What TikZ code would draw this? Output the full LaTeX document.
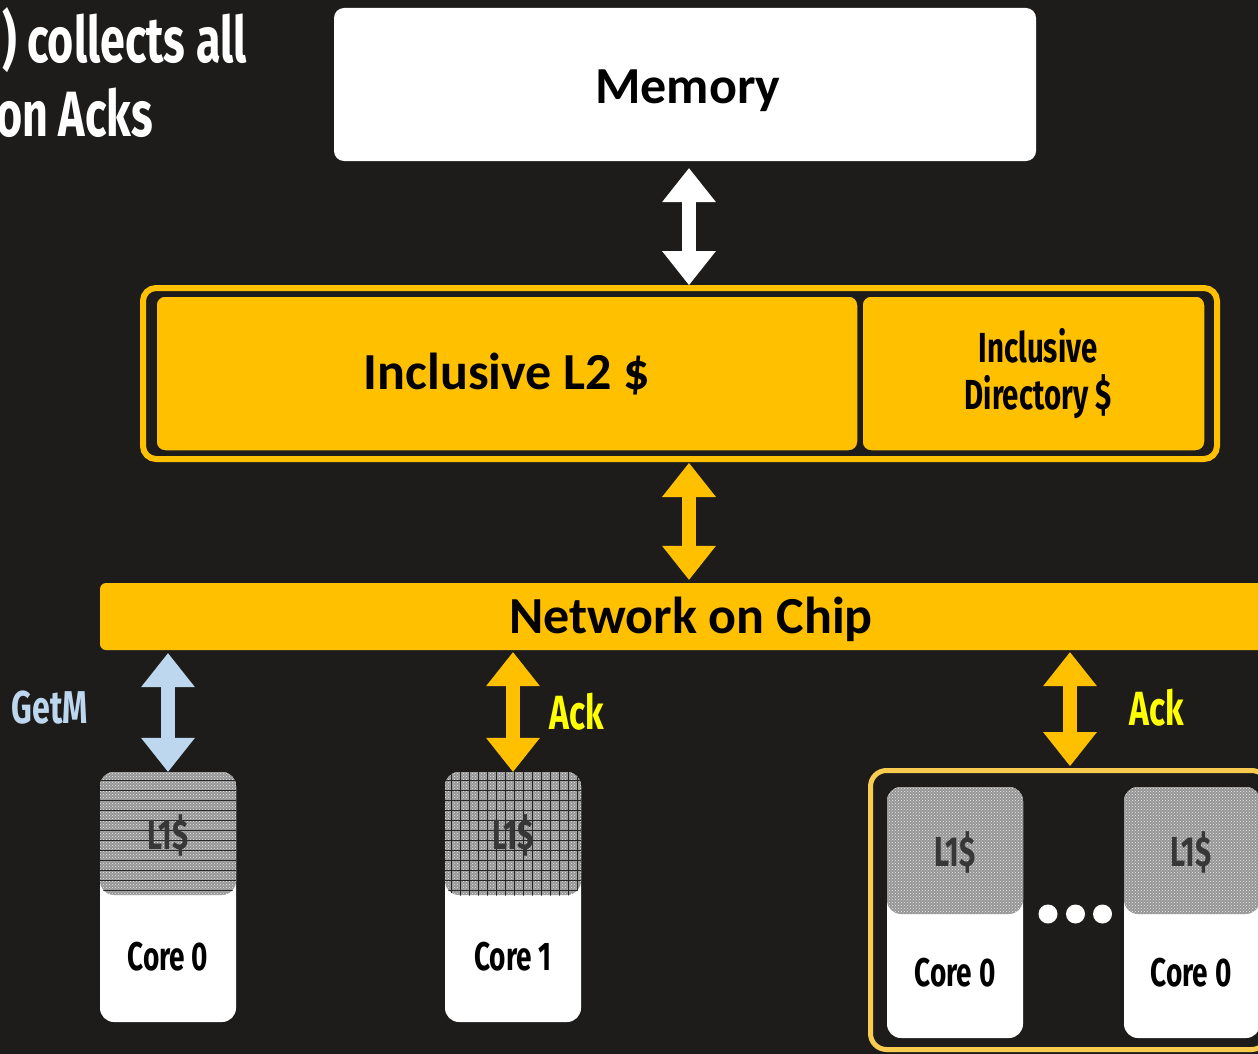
\documentclass[tikz,border=0pt]{standalone}
\usepackage{fontspec}
\setmainfont{Carlito}
\newfontfamily\cond[FakeStretch=0.7]{Fira Sans}
\usetikzlibrary{arrows.meta,patterns}
\definecolor{bg}{RGB}{29,28,26}
\definecolor{gold}{RGB}{255,192,0}
\definecolor{paleblue}{RGB}{189,215,238}
\definecolor{ackyellow}{RGB}{255,255,0}
\definecolor{framey}{RGB}{249,204,80}
\definecolor{lgray}{RGB}{150,150,150}
\definecolor{ltext}{RGB}{55,55,55}
\tikzset{
  blockarrow/.style={line width=14pt, draw=#1,
    {Triangle[length=34pt,width=54pt,line width=0pt]}-{Triangle[length=34pt,width=54pt,line width=0pt]}},
  bigtext/.style={font=\fontsize{52}{56}\selectfont\bfseries, text=black},
  condtext/.style={font=\cond\bfseries\fontsize{#1}{#1}\selectfont},
  corebox/.style={fill=white, rounded corners=14pt, minimum width=136pt, inner sep=0pt},
  l1box/.style={fill=lgray, rounded corners=14pt, minimum width=136pt, inner sep=0pt,
    postaction={pattern=crosshatch dots, pattern color=white!80!lgray}},
  l1text/.style={condtext=42, text=ltext},
  coretext/.style={condtext=40, text=black},
}
\begin{document}
\begin{tikzpicture}[x=1pt,y=-1pt]
\useasboundingbox (0,0) rectangle (1258,1054);
\fill[bg] (0,0) rectangle (1258,1054);

% title (partly cut off)
\node[condtext=64, text=white, anchor=base east, inner sep=0pt] (title1) at (247,63) {) collects all};
\node[condtext=64, text=white, anchor=base east, inner sep=0pt] (title2) at (153,137) {on Acks};

% memory
\node[fill=white, rounded corners=10pt, minimum width=702pt, minimum height=153pt, inner sep=0pt] (mem) at (685,84.5) {};
\node[bigtext] (memtxt) at (688,91) {Memory};

% L2 frame
\node[draw=gold, line width=6pt, fill=bg, rounded corners=13pt, minimum width=1074pt, minimum height=171pt, inner sep=0pt] (l2out) at (680,373.5) {};
\node[fill=gold, draw=bg, line width=1.5pt, rounded corners=9pt, minimum width=702pt, minimum height=155pt, inner sep=0pt] (l2) at (507,373.5) {};
\node[bigtext] (l2txt) at (507,374) {Inclusive L2 \$};
\node[fill=gold, draw=bg, line width=1.5pt, rounded corners=9pt, minimum width=343pt, minimum height=155pt, inner sep=0pt] (dir) at (1033.5,373.5) {};
\node[condtext=42, text=black, align=center, inner sep=0pt] (dirtxt) at (1038,374) {Inclusive\\[5pt]Directory \$};

% network on chip
\node[fill=gold, rounded corners=6pt, minimum width=1170pt, minimum height=67pt, inner sep=0pt] (noc) at (685,616.5) {};
\node[bigtext] (noctxt) at (691,619) {Network on Chip};

% core 0
\node[corebox, minimum height=250pt] (core0) at (168,897) {};
\node[l1box, minimum height=123pt] (l1a) at (168,833.5) {};
\begin{scope}
  \clip[rounded corners=14pt] (100,772) rectangle (236,895.5);
  \foreach \yy in {780,790,...,895} \draw[black!85, line width=0.9pt] (100,\yy) -- (237,\yy);
\end{scope}
\node[l1text] (l1atxt) at (168,835) {L1\$};
\node[coretext] (c0txt) at (168,957) {Core 0};

% core 1
\node[corebox, minimum height=250pt] (core1) at (513,897) {};
\node[l1box, minimum height=123pt] (l1b) at (513,833.5) {};
\begin{scope}
  \clip[rounded corners=14pt] (445,772) rectangle (581,895.5);
  \foreach \yy in {780,790,...,895} \draw[black!85, line width=0.9pt] (445,\yy) -- (581,\yy);
  \foreach \xx in {451,460,...,581} \draw[black!85, line width=0.9pt] (\xx,772) -- (\xx,896);
\end{scope}
\node[l1text] (l1btxt) at (513,835) {L1\$};
\node[coretext] (c1txt) at (513,957) {Core 1};

% group of cores
\node[draw=framey, line width=5pt, rounded corners=16pt, minimum width=397pt, minimum height=279pt, inner sep=0pt] (group) at (1069,910) {};
\node[corebox, minimum height=251pt] (core2) at (955,912.5) {};
\node[l1box, minimum height=127pt] (l1c) at (955,850.5) {};
\node[l1text] (l1ctxt) at (955,852) {L1\$};
\node[coretext] (c2txt) at (955,973) {Core 0};
\node[corebox, minimum height=251pt] (core3) at (1192,912.5) {};
\node[l1box, minimum height=127pt] (l1d) at (1192,850.5) {};
\node[l1text] (l1dtxt) at (1191,852) {L1\$};
\node[coretext] (c3txt) at (1191,973) {Core 0};
\fill[white] (1048,914) circle (9.5pt) (1075.5,914) circle (9.5pt) (1102.5,914) circle (9.5pt);

% arrows
\draw[blockarrow=white] ([yshift=-7pt]mem.south -| 689,0) -- (l2out.north -| 689,0);
\draw[blockarrow=gold] ([yshift=-1pt]l2out.south -| 689,0) -- ([yshift=3pt]noc.north -| 689,0);
\draw[blockarrow=paleblue] ([yshift=-3pt]noc.south -| core0.north) -- (core0.north);
\draw[blockarrow=gold] ([yshift=-2pt]noc.south -| core1.north) -- (core1.north);
\draw[blockarrow=gold] ([yshift=-2pt]noc.south -| 1070,0) -- ([yshift=2pt]group.north -| 1070,0);

% labels
\node[condtext=46, text=paleblue] (getm) at (50,708) {GetM};
\node[condtext=48, text=ackyellow] (ack1) at (577,712) {Ack};
\node[condtext=48, text=ackyellow] (ack2) at (1157,708) {Ack};
\end{tikzpicture}
\end{document}
